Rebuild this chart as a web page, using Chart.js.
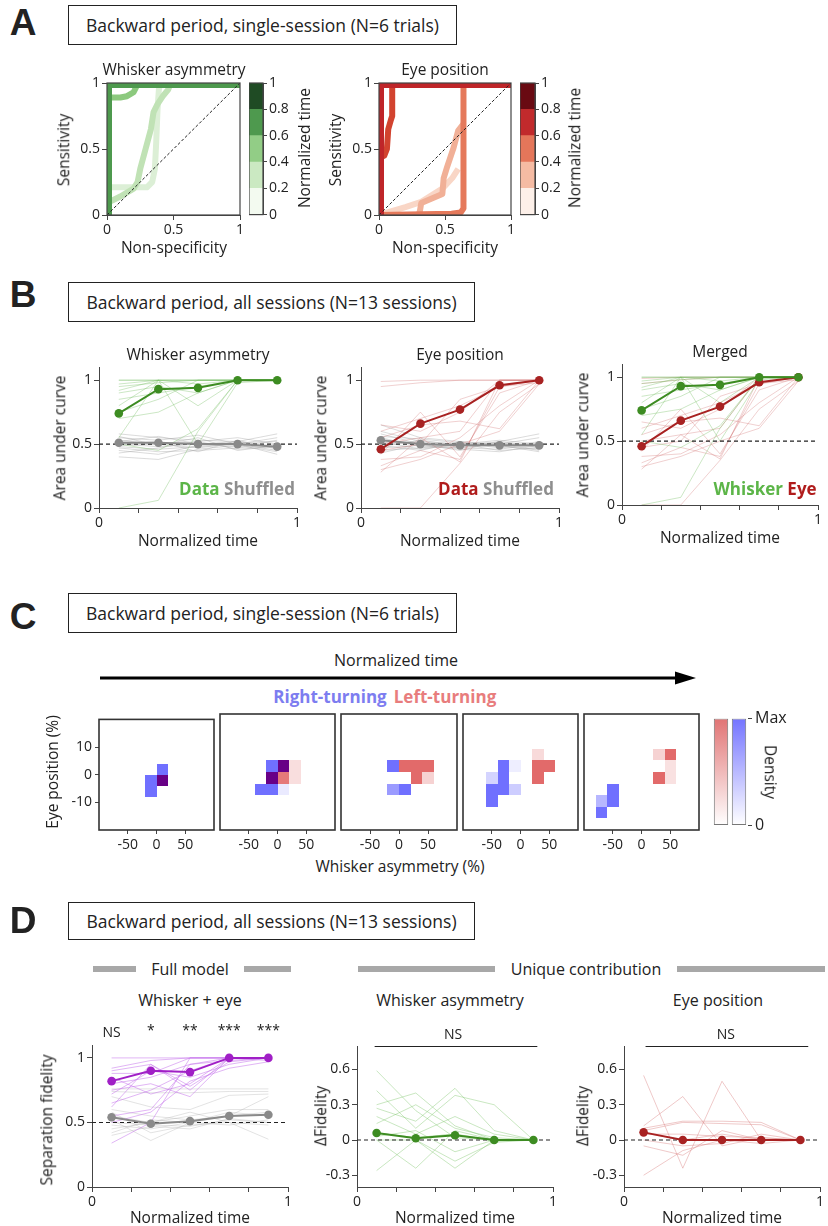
<!DOCTYPE html>
<html><head><meta charset="utf-8">
<script src="https://cdn.jsdelivr.net/npm/chart.js@4/dist/chart.umd.min.js"></script>
<style>
body{margin:0;background:#fff;}
#root{position:relative;width:828px;height:1226px;overflow:hidden;font-family:'Open Sans',sans-serif;color:#222;}
.t{position:absolute;white-space:nowrap;line-height:1;}
.box{position:absolute;border:1.5px solid #222;box-sizing:border-box;display:flex;align-items:center;justify-content:center;font-size:17.5px;white-space:nowrap;}
.pl{position:absolute;font-family:'Liberation Sans',Arial,sans-serif;font-weight:bold;font-size:37px;line-height:1;transform:translate(-50%,-50%);}
.gbar{position:absolute;background:#a8a8a8;height:6px;}
canvas{position:absolute;}
</style></head>
<body><div id="root"></div>
<script>
// ================= DATA =================
const timePoints = [0.1, 0.3, 0.5, 0.7, 0.9];

// Panel A: ROC curves (non-specificity, sensitivity) per normalized-time bin
const normTimeBins = [0, 0.2, 0.4, 0.6, 0.8, 1];
const rocWhiskerT0 = [[0,0],[0,0.21],[0.3,0.21],[0.34,0.25],[0.36,0.35],[0.37,0.55],[0.38,0.8],[0.39,0.95],[0.4,1],[1,1]];
const rocWhiskerT1 = [[0,0],[0,0.09],[0.1,0.14],[0.2,0.2],[0.23,0.25],[0.25,0.35],[0.29,0.5],[0.33,0.65],[0.35,0.78],[0.38,0.84],[0.42,0.9],[0.46,0.95],[0.48,1],[1,1]];
const rocWhiskerT2 = [[0,0],[0,0.89],[0.1,0.89],[0.15,0.9],[0.2,0.93],[0.22,0.97],[0.22,1],[1,1]];
const rocWhiskerT3 = [[0,0],[0,1],[1,1]];
const rocWhiskerT4 = [[0,0],[0,1],[1,1]];
const rocEyeT0 = [[0,0],[0.2,0.06],[0.32,0.1],[0.48,0.2],[0.555,0.28],[0.6,0.35]];
const rocEyeT1 = [[0,0],[0.3,0],[0.31,0.03],[0.32,0.09],[0.48,0.16],[0.49,0.28],[0.515,0.36],[0.565,0.51],[0.6,0.64],[0.64,0.69]];
const rocEyeT2 = [[0,0],[0.55,0.01],[0.62,0.02],[0.64,0.05],[0.64,1],[1,1]];
const rocEyeT3 = [[0,0],[0,0.43],[0.04,0.45],[0.06,0.5],[0.07,0.65],[0.09,0.72],[0.1,0.75],[0.1,1],[1,1]];
const rocEyeT4 = [[0,0],[0,1],[1,1]];

// Panel B: area under curve
const aucWhiskerMean = [0.74, 0.93, 0.94, 1.0, 1.0];
const aucWhiskerShufMean = [0.51, 0.51, 0.50, 0.50, 0.48];
const aucEyeMean = [0.46, 0.66, 0.77, 0.96, 1.0];
const aucEyeShufMean = [0.53, 0.50, 0.49, 0.49, 0.49];
const aucWhiskerSessions = [
  [1,1,1,1,1],[1,1,1,1,1],[0.97,1,1,1,1],[0.95,0.98,1,1,1],[0.92,1,0.97,1,1],
  [0.9,0.95,0.9,1,1],[0.85,0.9,0.95,1,1],[0.8,1,0.8,1,1],[0.75,0.85,1,1,1],
  [0.7,0.75,0.9,1,1],[0.55,1,0.5,0.98,1],[0.5,0.45,0.62,1,1],[0,0.06,0.6,1,1]];
const aucWhiskerShufSessions = [
  [0.58,0.55,0.53,0.52,0.58],[0.55,0.53,0.57,0.5,0.55],[0.53,0.5,0.52,0.55,0.5],
  [0.52,0.56,0.5,0.48,0.53],[0.5,0.48,0.5,0.52,0.47],[0.48,0.46,0.48,0.5,0.45],
  [0.47,0.44,0.45,0.47,0.5],[0.45,0.42,0.49,0.5,0.42],[0.43,0.47,0.52,0.46,0.48],
  [0.4,0.38,0.46,0.49,0.44],[0.5,0.52,0.44,0.53,0.46],[0.56,0.49,0.55,0.45,0.49],
  [0.49,0.5,0.47,0.51,0.52]];
const aucEyeSessions = [
  [0.99,1,1,1,1],[0.95,0.98,1,1,1],[0.65,0.6,0.75,1,1],[0.6,0.7,0.8,0.95,1],
  [0.55,0.65,0.68,0.62,1],[0.5,0.55,0.6,1,1],[0.45,0.5,0.85,0.95,1],
  [0.42,0.75,0.4,0.9,1],[0.38,0.4,0.55,0.8,1],[0.33,0.45,0.38,0.95,0.98],
  [0.3,0.38,0.5,0.6,0.97],[0.28,0.55,0.36,1,1],[0,0,0.35,0.75,0.97]];
const aucEyeShufSessions = [
  [0.65,0.55,0.52,0.5,0.55],[0.6,0.52,0.5,0.53,0.5],[0.58,0.5,0.48,0.52,0.58],
  [0.56,0.54,0.51,0.47,0.52],[0.55,0.48,0.47,0.5,0.45],[0.53,0.5,0.45,0.52,0.48],
  [0.52,0.46,0.5,0.45,0.47],[0.5,0.52,0.48,0.5,0.5],[0.49,0.45,0.52,0.48,0.46],
  [0.47,0.49,0.46,0.44,0.49],[0.45,0.47,0.5,0.51,0.47],[0.43,0.5,0.47,0.46,0.5],
  [0.48,0.53,0.49,0.49,0.44]];

// Panel C: 2D density bins [whisker bin start (%), eye bin start (%), right-turning density, left-turning density]
const heatBinX = 20, heatBinY = 4;
const heatT1 = [[0,0,1,0],[0,-4,1,1],[-20,-4,1,0],[-20,-8,1,0]];
const heatT2 = [[-20,0,1,0],[0,0,1,1],[20,0,0,0.22],[-20,-4,1,1],[0,-4,0,0.9],[20,-4,0,0.22],[-40,-8,1,0],[-20,-8,1,0],[0,-8,0.15,0]];
const heatT3 = [[-20,0,1,0],[0,0,0,1],[20,0,0,1],[40,0,0,1],[20,-4,0,1],[40,-4,0,0.3],[-20,-8,0.7,0],[0,-8,1,0]];
const heatT4 = [[-60,-4,0.3,0],[-60,-8,1,0],[-60,-12,1,0],[-40,0,1,0],[-40,-4,1,0],[-40,-8,1,0],[-20,0,0.12,0],[-20,-8,0.35,0],[20,4,0,0.25],[20,0,0,1],[40,0,0,1],[20,-4,0,1]];
const heatT5 = [[20,4,0,0.3],[40,4,0,1],[40,0,0,0.2],[20,-4,0,1],[40,-4,0,0.2],[-60,-8,1,0],[-60,-12,1,0],[-80,-12,0.5,0],[-80,-16,1,0]];
const heatPanels = [heatT1, heatT2, heatT3, heatT4, heatT5];

// Panel D: separation fidelity
const fidFullMean = [0.82, 0.90, 0.89, 1.0, 1.0];
const fidShufMean = [0.54, 0.49, 0.51, 0.55, 0.56];
const fidFullSessions = [
  [1,1,1,1,1],[0.92,0.98,1,1,1],[0.9,0.95,0.75,1,1],[0.88,0.88,1,1,1],[0.85,0.72,0.8,1,1],
  [0.8,0.85,0.95,0.98,1],[0.75,0.8,0.7,1,1],[0.72,0.9,0.85,0.95,1],[0.65,0.75,0.9,1,1],
  [0.62,0.95,0.78,0.97,1],[0.55,0.6,0.95,1,0.98],[0.5,0.58,0.82,0.92,0.97],[0.34,0.5,1,1,1]];
const fidShufSessions = [
  [0.76,0.76,0.76,0.76,0.76],[0.74,0.73,0.73,0.74,0.74],[0.7,0.62,0.6,0.71,0.72],
  [0.6,0.55,0.52,0.55,0.58],[0.58,0.42,0.48,0.5,0.37],[0.55,0.5,0.55,0.6,0.6],
  [0.52,0.36,0.5,0.55,0.7],[0.5,0.48,0.47,0.52,0.5],[0.48,0.45,0.5,0.48,0.52],
  [0.45,0.5,0.58,0.5,0.48],[0.42,0.52,0.5,0.58,0.55],[0.4,0.47,0.45,0.53,0.5]];
const sigLabels = ['NS', '*', '**', '***', '***'];
const dFidWhiskerMean = [0.06, 0.015, 0.04, 0.0, 0.0];
const dFidWhiskerSessions = [
  [0.59,0.25,0.02,0,0],[0.42,0.1,0.38,0.3,0],[0.3,0.4,0.12,0,0],[0.27,0.16,0.44,0.08,0],
  [0.2,0.05,0.2,0.05,0],[0.14,0.3,0.1,0.02,0],[0.06,0.02,0.05,0,0],[0.03,0.08,-0.1,0,0],
  [0,0,-0.18,-0.02,0],[-0.26,0,-0.24,0,0],[0,-0.24,0.08,0,0],[0.06,0.02,0.05,-0.01,0]];
const dFidEyeMean = [0.065, 0.0, 0.0, 0.0, 0.0];
const dFidEyeSessions = [
  [0.55,-0.24,0.5,0,0],[0.12,0.37,-0.05,0.02,0],[0.1,0.16,0.16,0.15,0],[0.08,0.15,0.14,0.13,0],
  [0.05,0.05,0.03,0.02,0],[-0.05,-0.13,0.08,0,0],[-0.3,-0.09,0,-0.03,0],[0,-0.05,-0.03,0.05,0],
  [0.06,0,0.05,0,0]];

// ================= HELPERS =================
Chart.defaults.font.family = "'Open Sans', sans-serif";
Chart.defaults.font.size = 14;
Chart.defaults.color = '#222';
const root = document.getElementById('root');
const LBL = 15.5;

function T(x, y, text, o = {}) {
  const d = document.createElement('div');
  d.className = 't';
  d.style.left = x + 'px'; d.style.top = y + 'px';
  d.style.fontSize = (o.size || LBL) + 'px';
  if (o.weight) d.style.fontWeight = o.weight;
  if (o.color) d.style.color = o.color;
  d.style.transform = 'translate(-50%,-50%)' + (o.rot ? ` rotate(${o.rot}deg)` : '');
  d.innerHTML = text;
  root.appendChild(d);
}
function BOX(x0, y0, x1, y1, text) {
  const d = document.createElement('div');
  d.className = 'box';
  d.style.cssText += `left:${x0}px;top:${y0}px;width:${x1-x0}px;height:${y1-y0}px;`;
  d.textContent = text;
  root.appendChild(d);
}
function PL(x, y, t) {
  const d = document.createElement('div'); d.className = 'pl';
  d.style.left = x + 'px'; d.style.top = y + 'px'; d.textContent = t; root.appendChild(d);
}
function GBAR(x0, x1, y) {
  const d = document.createElement('div'); d.className = 'gbar';
  d.style.left = x0 + 'px'; d.style.width = (x1 - x0) + 'px'; d.style.top = (y - 3) + 'px';
  root.appendChild(d);
}
const fmt = v => String(+(+v).toFixed(2));
function linAxis(min, max, ticks, o = {}) {
  return {
    type: 'linear', min, max, position: o.pos,
    afterBuildTicks: s => { s.ticks = ticks.map(v => ({ value: v })); },
    ticks: { display: !o.noLabels, autoSkip: false, maxRotation: 0, minRotation: 0,
      padding: o.tpad ?? 2, font: { size: o.fs || 14 }, color: '#222', callback: o.cb || fmt },
    grid: { display: !o.noGrid, drawOnChartArea: false, drawTicks: true, tickLength: o.tl ?? 5, color: '#444', lineWidth: 1 },
    border: { display: !o.noBorder, color: '#444', width: 1 }
  };
}
const endsOnly = v => (v === 0 || v === 1) ? String(v) : '';
function mkChart(area, pad, cfg) {
  const [x0, y0, x1, y1] = area;
  const W = x1 - x0 + pad.l + pad.r, H = y1 - y0 + pad.t + pad.b;
  const cv = document.createElement('canvas');
  cv.width = W; cv.height = H;
  cv.style.left = (x0 - pad.l) + 'px'; cv.style.top = (y0 - pad.t) + 'px';
  cv.style.width = W + 'px'; cv.style.height = H + 'px';
  root.appendChild(cv);
  const o = cfg.options;
  const yRight = o.scales.y.position === 'right';
  o.scales.x.afterFit = s => { s.height = pad.b; };
  o.scales.y.afterFit = s => { s.width = yRight ? pad.r : pad.l; };
  o.layout = { padding: { top: pad.t, bottom: 0, left: yRight ? pad.l : 0, right: yRight ? 0 : pad.r } };
  o.responsive = false; o.animation = false; o.devicePixelRatio = 1;
  o.plugins = Object.assign({ legend: { display: false }, tooltip: { enabled: false } }, o.plugins || {});
  return new Chart(cv, cfg);
}
const pts = ys => ys.map((y, i) => ({ x: timePoints[i], y }));
const thin = (ys, c) => ({ data: pts(ys), borderColor: c, borderWidth: 1, pointRadius: 0, showLine: true, order: 10 });
const mean = (ys, c) => ({ data: pts(ys), borderColor: c, backgroundColor: c, borderWidth: 2, pointRadius: 4.3, pointBorderWidth: 0, showLine: true, order: 1 });
const refH = (y) => ({ data: [{ x: 0, y }, { x: 1, y }], borderColor: '#222', borderDash: [4, 3], borderWidth: 1.1, pointRadius: 0, showLine: true, order: 5 });
const roc = (arr, c, w, ord) => ({ data: arr.map(([x, y]) => ({ x, y })), borderColor: c, borderWidth: w, pointRadius: 0, showLine: true, borderJoinStyle: 'round', order: ord });

const framePlugin = { id: 'frame', afterDraw(ch, args, op) {
  const a = ch.chartArea, c = ch.ctx; c.save(); c.strokeStyle = op.color || '#444'; c.lineWidth = op.width || 1.2;
  c.strokeRect(a.left, a.top, a.right - a.left, a.bottom - a.top); c.restore(); } };
const sigPlugin = { id: 'sig', afterDraw(ch, args, op) {
  const c = ch.ctx, xs = ch.scales.x, top = ch.chartArea.top;
  c.save(); c.fillStyle = '#222'; c.textAlign = 'center'; c.textBaseline = 'middle';
  c.font = "14px 'Open Sans'";
  op.labels.forEach((t, i) => c.fillText(t, xs.getPixelForValue(op.at[i]), top - op.dy - (t[0] === '*' ? 2 : 0)));
  if (op.span) { c.strokeStyle = '#222'; c.lineWidth = 1.2; c.beginPath();
    c.moveTo(xs.getPixelForValue(op.span[0]), top + 0.5); c.lineTo(xs.getPixelForValue(op.span[1]), top + 0.5); c.stroke(); }
  c.restore(); } };
function cellColor(r, l) {
  if (r > 0 && l > 0) return 'rgb(104,0,134)';
  if (r > 0) return `rgba(112,112,255,${r})`;
  return `rgba(226,106,106,${l})`;
}
const heatPlugin = { id: 'heat', beforeDatasetsDraw(ch) {
  const c = ch.ctx, xs = ch.scales.x, ys = ch.scales.y;
  c.save();
  ch.data.datasets[0].data.forEach(p => {
    const px0 = xs.getPixelForValue(p.x), px1 = xs.getPixelForValue(p.x + heatBinX);
    const py0 = ys.getPixelForValue(p.y), py1 = ys.getPixelForValue(p.y + heatBinY);
    c.fillStyle = cellColor(p.r, p.l);
    c.fillRect(Math.round(px0), Math.round(py1), Math.round(px1) - Math.round(px0), Math.round(py0) - Math.round(py1));
  });
  c.restore(); } };

// ================= PANEL A =================
PL(23, 22, 'A');
BOX(68, 5, 457, 45, 'Backward period, single-session (N=6 trials)');
const greenBar = ['#f3faf0', '#cbe9c2', '#92cd86', '#4e994e', '#1f4b24'];
const redBar = ['#fdf0e9', '#f5bba3', '#e4765a', '#c12a2c', '#690a12'];
function colorbar(area, cols) {
  mkChart(area, { l: 0, t: 12, r: 34, b: 10 }, {
    type: 'bar',
    data: { labels: [''], datasets: cols.map((c, i) => ({ data: [[normTimeBins[i], normTimeBins[i + 1]]], backgroundColor: c, borderWidth: 0, barPercentage: 1, categoryPercentage: 1, grouped: false })) },
    options: { scales: { x: { type: 'category', ticks: { display: false }, grid: { display: false }, border: { display: false } },
      y: linAxis(0, 1, normTimeBins, { pos: 'right', tl: 4, tpad: 2 }) } },
    plugins: [framePlugin]
  });
}
const diag = { data: [{ x: 0, y: 0 }, { x: 1, y: 1 }], borderColor: '#222', borderDash: [3, 2], borderWidth: 1, pointRadius: 0, showLine: true, order: 0 };
mkChart([107, 83, 240, 215], { l: 40, t: 12, r: 10, b: 24 }, {
  type: 'scatter',
  data: { datasets: [roc(rocWhiskerT3, greenBar[3], 10, 1), roc(rocWhiskerT4, greenBar[4], 10, 2), roc(rocWhiskerT2, '#8cc97e', 6, 3),
    roc(rocWhiskerT1, '#c0e2b5', 6, 4), roc(rocWhiskerT0, '#dcefd6', 6, 5), diag] },
  options: { scales: { x: linAxis(0, 1, [0, 0.5, 1]), y: linAxis(0, 1, [0, 0.5, 1]) } },
  plugins: [framePlugin]
});
colorbar([249, 83, 263, 215], greenBar);
mkChart([379, 83, 511, 215], { l: 40, t: 12, r: 10, b: 24 }, {
  type: 'scatter',
  data: { datasets: [roc(rocEyeT4, '#bf2529', 10, 1), roc(rocEyeT3, '#d2432f', 6, 2), roc(rocEyeT2, '#e5795b', 6, 3),
    roc(rocEyeT1, '#f1b097', 6, 4), roc(rocEyeT0, '#f9d6c6', 6, 5), diag] },
  options: { scales: { x: linAxis(0, 1, [0, 0.5, 1]), y: linAxis(0, 1, [0, 0.5, 1]) } },
  plugins: [framePlugin]
});
colorbar([520, 83, 535, 215], redBar);
T(174, 70, 'Whisker asymmetry');
T(445, 70, 'Eye position');
T(64, 150, 'Sensitivity', { rot: -90 });
T(336, 150, 'Sensitivity', { rot: -90 });
T(174, 248, 'Non-specificity');
T(445, 248, 'Non-specificity');
T(305, 148, 'Normalized time', { rot: -90 });
T(575, 148, 'Normalized time', { rot: -90 });

// ================= PANEL B =================
PL(23, 294, 'B');
BOX(68, 282, 475, 322, 'Backward period, all sessions (N=13 sessions)');
const cGreen = '#3d8c22', cGreenThin = 'rgba(110,185,90,0.35)';
const cGray = '#8a8a8a', cGrayThin = 'rgba(165,165,165,0.4)';
const cRed = '#a82222', cRedThin = 'rgba(205,100,100,0.3)';
const xB = () => linAxis(0, 1, [0, 0.2, 0.4, 0.6, 0.8, 1], { cb: endsOnly });
const yB = () => linAxis(0, 1.1, [0, 0.5, 1]);
mkChart([99, 367, 297, 508], { l: 40, t: 10, r: 10, b: 24 }, {
  type: 'scatter',
  data: { datasets: [
    ...aucWhiskerSessions.map(s => thin(s, cGreenThin)),
    ...aucWhiskerShufSessions.map(s => thin(s, cGrayThin)),
    refH(0.5), mean(aucWhiskerMean, cGreen), mean(aucWhiskerShufMean, cGray)] },
  options: { scales: { x: xB(), y: yB() } }
});
mkChart([361, 367, 559, 508], { l: 40, t: 10, r: 10, b: 24 }, {
  type: 'scatter',
  data: { datasets: [
    ...aucEyeSessions.map(s => thin(s, cRedThin)),
    ...aucEyeShufSessions.map(s => thin(s, cGrayThin)),
    refH(0.5), mean(aucEyeMean, cRed), mean(aucEyeShufMean, cGray)] },
  options: { scales: { x: xB(), y: yB() } }
});
mkChart([622, 364, 818, 505], { l: 40, t: 10, r: 10, b: 24 }, {
  type: 'scatter',
  data: { datasets: [
    ...aucWhiskerSessions.map(s => thin(s, cGreenThin)),
    ...aucEyeSessions.map(s => thin(s, cRedThin)),
    refH(0.5), mean(aucWhiskerMean, cGreen), mean(aucEyeMean, cRed)] },
  options: { scales: { x: xB(), y: yB() } }
});
T(198, 355, 'Whisker asymmetry');
T(460, 355, 'Eye position');
T(720, 352, 'Merged');
T(60, 438, 'Area under curve', { rot: -90 });
T(321, 438, 'Area under curve', { rot: -90 });
T(583, 435, 'Area under curve', { rot: -90 });
T(198, 541, 'Normalized time');
T(460, 541, 'Normalized time');
T(720, 538, 'Normalized time');
T(237, 488, '<span style="color:#5cb548">Data</span> <span style="color:#8e8e8e">Shuffled</span>', { size: 17, weight: 'bold' });
T(496, 488, '<span style="color:#b01c1c">Data</span> <span style="color:#8e8e8e">Shuffled</span>', { size: 17, weight: 'bold' });
T(765, 488, '<span style="color:#5cb548">Whisker</span> <span style="color:#b01c1c">Eye</span>', { size: 17, weight: 'bold' });

// ================= PANEL C =================
PL(23, 616, 'C');
BOX(68, 593, 457, 633, 'Backward period, single-session (N=6 trials)');
T(396, 660, 'Normalized time', { size: 16 });
(function () {
  const s = document.createElementNS('http://www.w3.org/2000/svg', 'svg');
  s.setAttribute('width', '610'); s.setAttribute('height', '20');
  s.style.cssText = 'position:absolute;left:95px;top:668px;';
  s.innerHTML = '<line x1="5" y1="10" x2="584" y2="10" stroke="#000" stroke-width="3"/><polygon points="580,3.5 601,10 580,16.5" fill="#000"/>';
  root.appendChild(s);
})();
T(330, 696, 'Right-turning', { size: 17, weight: 'bold', color: '#7d7df0' });
T(445, 696, 'Left-turning', { size: 17, weight: 'bold', color: '#e87d7d' });
const heatAreas = [[99, 714, 214, 830], [220, 714, 335, 830], [341, 714, 457, 830], [463, 714, 578, 830], [584, 714, 699, 830]];
heatPanels.forEach((cells, i) => {
  const first = i === 0;
  mkChart(heatAreas[i], { l: first ? 40 : 2, t: 6, r: 4, b: 24 }, {
    type: 'scatter',
    data: { datasets: [{ data: cells.map(([x, y, r, l]) => ({ x, y, r, l })), pointRadius: 0, showLine: false }] },
    options: { scales: {
      x: linAxis(-100, 100, [-50, 0, 50], { tl: 4, tpad: 3, noBorder: true }),
      y: first ? linAxis(-20, 20, [-10, 0, 10], { tl: 4, tpad: 3, noBorder: true }) : linAxis(-20, 20, [], { noLabels: true, noGrid: true, noBorder: true })
    }, plugins: { frame: { color: '#333', width: 1.6 } } },
    plugins: [heatPlugin, framePlugin]
  });
});
mkChart([712, 714, 748, 830], { l: 0, t: 8, r: 40, b: 8 }, {
  type: 'bar',
  data: { labels: ['left', 'right'], datasets: [{ data: [[0, 1], [0, 1]],
    backgroundColor: (ctx) => { const ch = ctx.chart, a = ch.chartArea; if (!a) return '#fff';
      const g = ch.ctx.createLinearGradient(0, a.bottom, 0, a.top);
      g.addColorStop(0, '#ffffff'); g.addColorStop(1, ctx.dataIndex === 0 ? '#e17474' : '#7474ff'); return g; },
    borderColor: '#777', borderWidth: 1, borderSkipped: false, barPercentage: 0.8, categoryPercentage: 1 }] },
  options: { scales: { x: { type: 'category', ticks: { display: false }, grid: { display: false }, border: { display: false } },
    y: linAxis(0, 1, [0, 1], { pos: 'right', tl: 4, tpad: 3, fs: 16, noBorder: true, cb: v => v === 1 ? 'Max' : '0' }) } }
});
T(770, 772, 'Density', { rot: 90 });
T(53, 772, 'Eye position (%)', { rot: -90 });
T(400, 867, 'Whisker asymmetry (%)');

// ================= PANEL D =================
PL(23, 920, 'D');
BOX(68, 902, 475, 940, 'Backward period, all sessions (N=13 sessions)');
GBAR(93, 136, 969); GBAR(244, 291, 969);
T(190, 969, 'Full model', { size: 16 });
GBAR(358, 495, 969); GBAR(677, 825, 969);
T(586, 969, 'Unique contribution', { size: 16 });
T(190, 1000, 'Whisker + eye', { size: 16 });
T(450, 1000, 'Whisker asymmetry', { size: 16 });
T(718, 1000, 'Eye position', { size: 16 });
const cPurple = '#a01fc6', cPurpleThin = 'rgba(195,110,235,0.5)';
mkChart([92, 1045, 288, 1187], { l: 40, t: 30, r: 10, b: 24 }, {
  type: 'scatter',
  data: { datasets: [
    ...fidFullSessions.map(s => thin(s, cPurpleThin)),
    ...fidShufSessions.map(s => thin(s, 'rgba(175,175,175,0.35)')),
    refH(0.5), mean(fidFullMean, cPurple), mean(fidShufMean, cGray)] },
  options: { scales: { x: xB(), y: yB() }, plugins: { sig: { labels: sigLabels, at: timePoints, dy: 12 } } },
  plugins: [sigPlugin]
});
const yD = () => linAxis(-0.4, 0.8, [-0.3, 0, 0.3, 0.6]);
mkChart([357, 1046, 553, 1187], { l: 40, t: 30, r: 10, b: 24 }, {
  type: 'scatter',
  data: { datasets: [...dFidWhiskerSessions.map(s => thin(s, 'rgba(120,195,100,0.4)')), refH(0), mean(dFidWhiskerMean, cGreen)] },
  options: { scales: { x: xB(), y: yD() }, plugins: { sig: { labels: ['NS'], at: [0.49], dy: 11, span: [0.09, 0.92] } } },
  plugins: [sigPlugin]
});
mkChart([624, 1046, 820, 1187], { l: 40, t: 30, r: 8, b: 24 }, {
  type: 'scatter',
  data: { datasets: [...dFidEyeSessions.map(s => thin(s, 'rgba(215,120,120,0.4)')), refH(0), mean(dFidEyeMean, cRed)] },
  options: { scales: { x: xB(), y: yD() }, plugins: { sig: { labels: ['NS'], at: [0.52], dy: 11, span: [0.11, 0.94] } } },
  plugins: [sigPlugin]
});
T(47, 1120, 'Separation fidelity', { rot: -90 });
T(321, 1116, 'ΔFidelity', { rot: -90 });
T(583, 1116, 'ΔFidelity', { rot: -90 });
T(190, 1218, 'Normalized time');
T(455, 1218, 'Normalized time');
T(722, 1218, 'Normalized time');
</script>
</body></html>
